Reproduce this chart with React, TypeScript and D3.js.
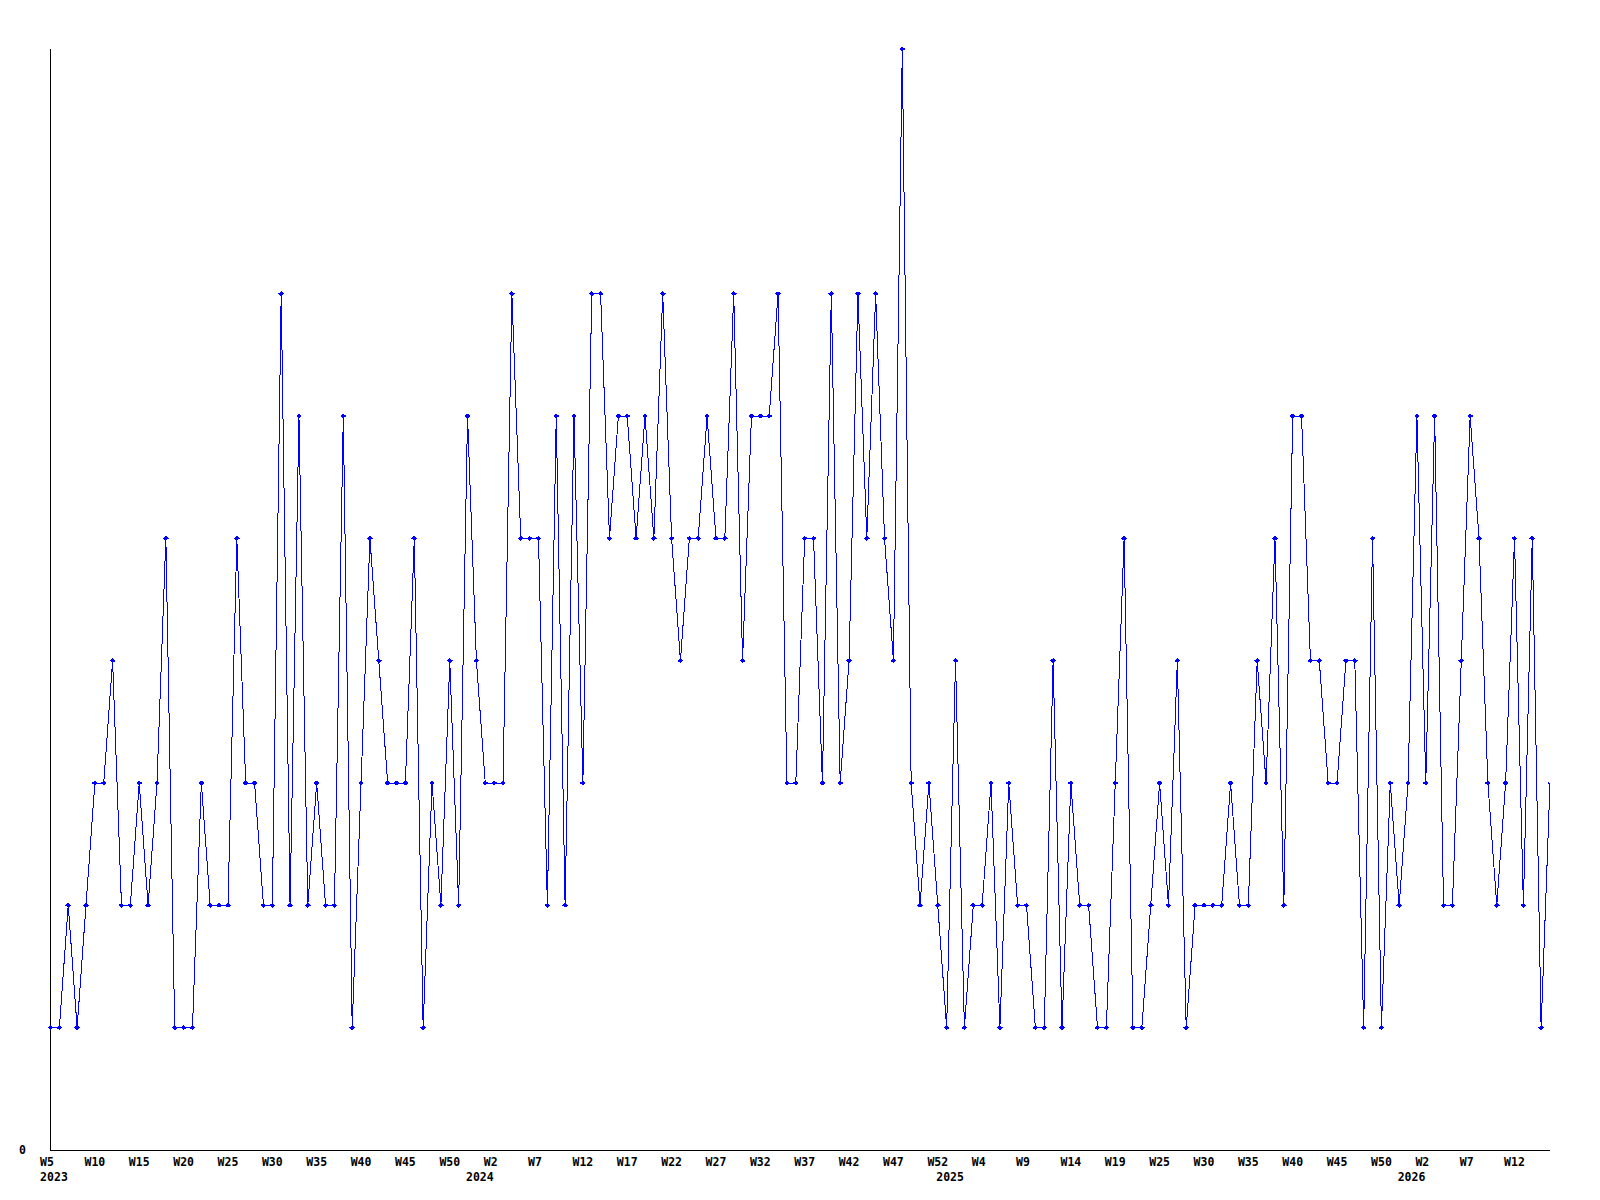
import React from "react";
import * as d3 from "d3";

// Weekly values, starting 2023 W5
const values: number[] = [
  1, 1, 2, 1, 2, 3, 3, 4, 2, 2,
  3, 2, 3, 5, 1, 1, 1, 3, 2, 2,
  2, 5, 3, 3, 2, 2, 7, 2, 6, 2,
  3, 2, 2, 6, 1, 3, 5, 4, 3, 3,
  3, 5, 1, 3, 2, 4, 2, 6, 4, 3,
  3, 3, 7, 5, 5, 5, 2, 6, 2, 6,
  3, 7, 7, 5, 6, 6, 5, 6, 5, 7,
  5, 4, 5, 5, 6, 5, 5, 7, 4, 6,
  6, 6, 7, 3, 3, 5, 5, 3, 7, 3,
  4, 7, 5, 7, 5, 4, 9, 3, 2, 3,
  2, 1, 4, 1, 2, 2, 3, 1, 3, 2,
  2, 1, 1, 4, 1, 3, 2, 2, 1, 1,
  3, 5, 1, 1, 2, 3, 2, 4, 1, 2,
  2, 2, 2, 3, 2, 2, 4, 3, 5, 2,
  6, 6, 4, 4, 3, 3, 4, 4, 1, 5,
  1, 3, 2, 3, 6, 3, 6, 2, 2, 4,
  6, 5, 3, 2, 3, 5, 2, 5, 1, 3,
];

// Week tick labels, one every 5 points
const weekTickLabels: string[] = [
  "W5", "W10", "W15", "W20", "W25", "W30", "W35", "W40", "W45", "W50",
  "W2", "W7", "W12", "W17", "W22", "W27", "W32", "W37", "W42", "W47",
  "W52", "W4", "W9", "W14", "W19", "W25", "W30", "W35", "W40", "W45",
  "W50", "W2", "W7", "W12",
];
const weekTickStep = 5;

// Year labels and the point index where each year starts
const yearLabels: string[] = ["2023", "2024", "2025", "2026"];
const yearStartIndex: number[] = [0, 48, 101, 153];

const yTickValues: number[] = [0];
const yMax = 9;

const W = 1600;
const H = 1200;
const left = 50;
const right = 1550;
const top = 49;
const bottom = 1150;
const font = "'DejaVu Sans Mono', monospace";
const fontSize = 11.5;
const charW = fontSize * 0.602;

export default function App() {
  const x = d3.scaleLinear().domain([0, values.length - 1]).range([left + 0.5, right]);
  const y = d3.scaleLinear().domain([0, yMax]).range([bottom, top]);
  const line = d3
    .line<number>()
    .x((_, i) => x(i))
    .y((d) => y(d));

  return (
    <svg
      width={W}
      height={H}
      style={{ position: "absolute", left: 0, top: 0, background: "#fff" }}
    >
      <defs>
        <clipPath id="plotclip">
          <rect x={0} y={0} width={right - 1} height={H} />
        </clipPath>
        <clipPath id="lineclip">
          <rect x={0} y={0} width={right} height={H} />
        </clipPath>
      </defs>
      <rect x={0} y={0} width={W} height={H} fill="#fff" />
      {/* axes */}
      <line x1={left + 0.5} y1={top} x2={left + 0.5} y2={bottom + 0.5} stroke="#000" strokeWidth={1} />
      <line x1={left} y1={bottom + 0.5} x2={right} y2={bottom + 0.5} stroke="#000" strokeWidth={1} />
      {/* y tick labels */}
      {yTickValues.map((v) => (
        <text
          key={v}
          x={26}
          y={y(v)}
          dy="0.36em"
          textAnchor="end"
          fontFamily={font}
          fontWeight="bold"
          fontSize={fontSize}
          fill="#000"
        >
          {v}
        </text>
      ))}
      {/* week tick labels */}
      {weekTickLabels.map((lab, k) => (
        <text
          key={"w" + k}
          x={x(k * weekTickStep) - 1.5 * charW}
          y={1162}
          dy="0.36em"
          textAnchor="start"
          fontFamily={font}
          fontWeight="bold"
          fontSize={fontSize}
          fill="#000"
        >
          {lab}
        </text>
      ))}
      {/* year labels */}
      {yearLabels.map((lab, k) => (
        <text
          key={"y" + k}
          x={x(yearStartIndex[k]) - 1.5 * charW}
          y={1177}
          dy="0.36em"
          textAnchor="start"
          fontFamily={font}
          fontWeight="bold"
          fontSize={fontSize}
          fill="#000"
        >
          {lab}
        </text>
      ))}
      {/* series line */}
      <path
        d={line(values) || ""}
        fill="none"
        stroke="#0000ff"
        strokeWidth={1}
        shapeRendering="crispEdges"
        clipPath="url(#lineclip)"
      />
      {/* markers */}
      <g clipPath="url(#plotclip)" shapeRendering="crispEdges">
        {values.map((v, i) => (
          <path
            key={i}
            transform={`translate(${x(i)},${y(v)})`}
            d="M-3,0 L0,-2.5 L3,0 L0,2.5 Z"
            fill="#0000ff"
            stroke="none"
          />
        ))}
      </g>
    </svg>
  );
}
